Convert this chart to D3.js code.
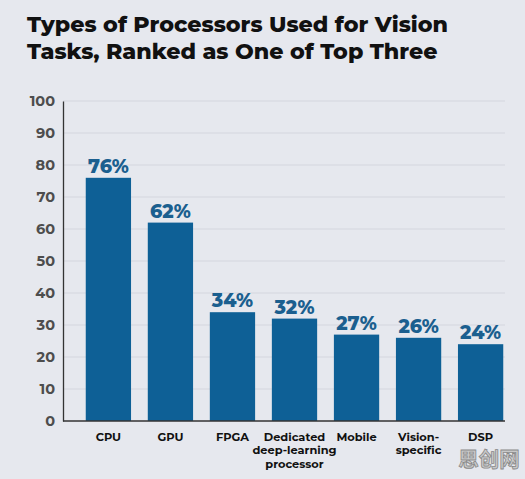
<!DOCTYPE html>
<html>
<head>
<meta charset="utf-8">
<script src="https://cdn.jsdelivr.net/npm/d3@7"></script>
<style>
  body { margin: 0; background: #e6e8ee; }
  svg { display: block; }
</style>
</head>
<body>
<div id="chart"></div>
<script>
// data
var categories = ["CPU", "GPU", "FPGA", "Dedicated deep-learning processor", "Mobile", "Vision-specific", "DSP"];
var labelLines = [["CPU"], ["GPU"], ["FPGA"], ["Dedicated", "deep-learning", "processor"], ["Mobile"], ["Vision-", "specific"], ["DSP"]];
var values = [76, 62, 34, 32, 27, 26, 24];
var yTicks = [0, 10, 20, 30, 40, 50, 60, 70, 80, 90, 100];
var titleLines = ["Types of Processors Used for Vision", "Tasks, Ranked as One of Top Three"];

var data = categories.map((c, i) => ({ cat: c, value: values[i], lines: labelLines[i] }));

var svg = d3.select("#chart").append("svg");
svg.attr("width", 525).attr("height", 479);

var font = "Montserrat, 'Open Sans', 'DejaVu Sans', sans-serif";

svg.append("rect").attr("width", 525).attr("height", 479).attr("fill", "#e6e8ee");

// title
svg.append("g")
  .selectAll("text")
  .data(titleLines)
  .enter()
  .append("text")
  .attr("x", 27)
  .attr("y", (d, i) => 32 + i * 27)
  .attr("font-family", font)
  .attr("font-weight", 800)
  .attr("font-size", 22.2)
  .attr("fill", "#111")
  .text((d) => d);

var margin = { left: 63, right: 505, top: 101, bottom: 421 };

var x = d3.scaleBand()
  .domain(categories)
  .range([69, 520])
  .paddingInner(0.27)
  .paddingOuter(0.27);

var y = d3.scaleLinear().domain([0, 100]).range([margin.bottom, margin.top]);

// gridlines
svg.append("g")
  .selectAll("line")
  .data(yTicks.filter((t) => t > 0))
  .enter()
  .append("line")
  .attr("x1", margin.left)
  .attr("x2", margin.right)
  .attr("y1", (d) => y(d))
  .attr("y2", (d) => y(d))
  .attr("stroke", "#d3d6de")
  .attr("stroke-width", 1.2);

// y axis
var yAxis = svg.append("g")
  .attr("transform", `translate(${margin.left},0)`)
  .call(d3.axisLeft(y).tickValues(yTicks).tickSize(0).tickPadding(8));
yAxis.select(".domain").attr("stroke", "#333").attr("stroke-width", 1.3);
yAxis.selectAll("text")
  .attr("font-family", font)
  .attr("font-weight", 700)
  .attr("font-size", 14.5)
  .attr("fill", "#4d4d4d");

// bars
svg.append("g")
  .attr("fill", "#0e6096")
  .selectAll("rect")
  .data(data)
  .enter()
  .append("rect")
  .attr("x", (d) => x(d.cat))
  .attr("width", x.bandwidth())
  .attr("y", (d) => y(d.value))
  .attr("height", (d) => y(0) - y(d.value));

// baseline
svg.append("line")
  .attr("x1", margin.left)
  .attr("x2", margin.right)
  .attr("y1", y(0))
  .attr("y2", y(0))
  .attr("stroke", "#333")
  .attr("stroke-width", 1.3);

// value labels
svg.append("g")
  .selectAll("text")
  .data(data)
  .enter()
  .append("text")
  .attr("x", (d) => x(d.cat) + x.bandwidth() / 2)
  .attr("y", (d) => y(d.value) - 5)
  .attr("text-anchor", "middle")
  .attr("font-family", font)
  .attr("font-weight", 800)
  .attr("font-size", 19)
  .attr("fill", "#1b5f8f")
  .text((d) => d.value + "%");

// category labels
var cat = svg.append("g")
  .selectAll("text")
  .data(data)
  .enter()
  .append("text")
  .attr("text-anchor", "middle")
  .attr("font-family", font)
  .attr("font-weight", 700)
  .attr("font-size", 11.4)
  .attr("fill", "#111");
cat.selectAll("tspan")
  .data((d) => d.lines.map((l) => ({ l: l, cx: x(d.cat) + x.bandwidth() / 2 })))
  .enter()
  .append("tspan")
  .attr("x", (d) => d.cx)
  .attr("y", (d, i) => 441 + i * 13.3)
  .text((d) => d.l);

// watermark
svg.append("text")
  .attr("x", 489)
  .attr("y", 467)
  .attr("text-anchor", "middle")
  .attr("font-family", "'Noto Sans CJK SC', sans-serif")
  .attr("font-weight", 700)
  .attr("font-size", 20.5)
  .attr("fill", "#c9c9c9")
  .attr("stroke", "#8a8a8a")
  .attr("stroke-width", 0.8)
  .text("思创网");
</script>
</body>
</html>
